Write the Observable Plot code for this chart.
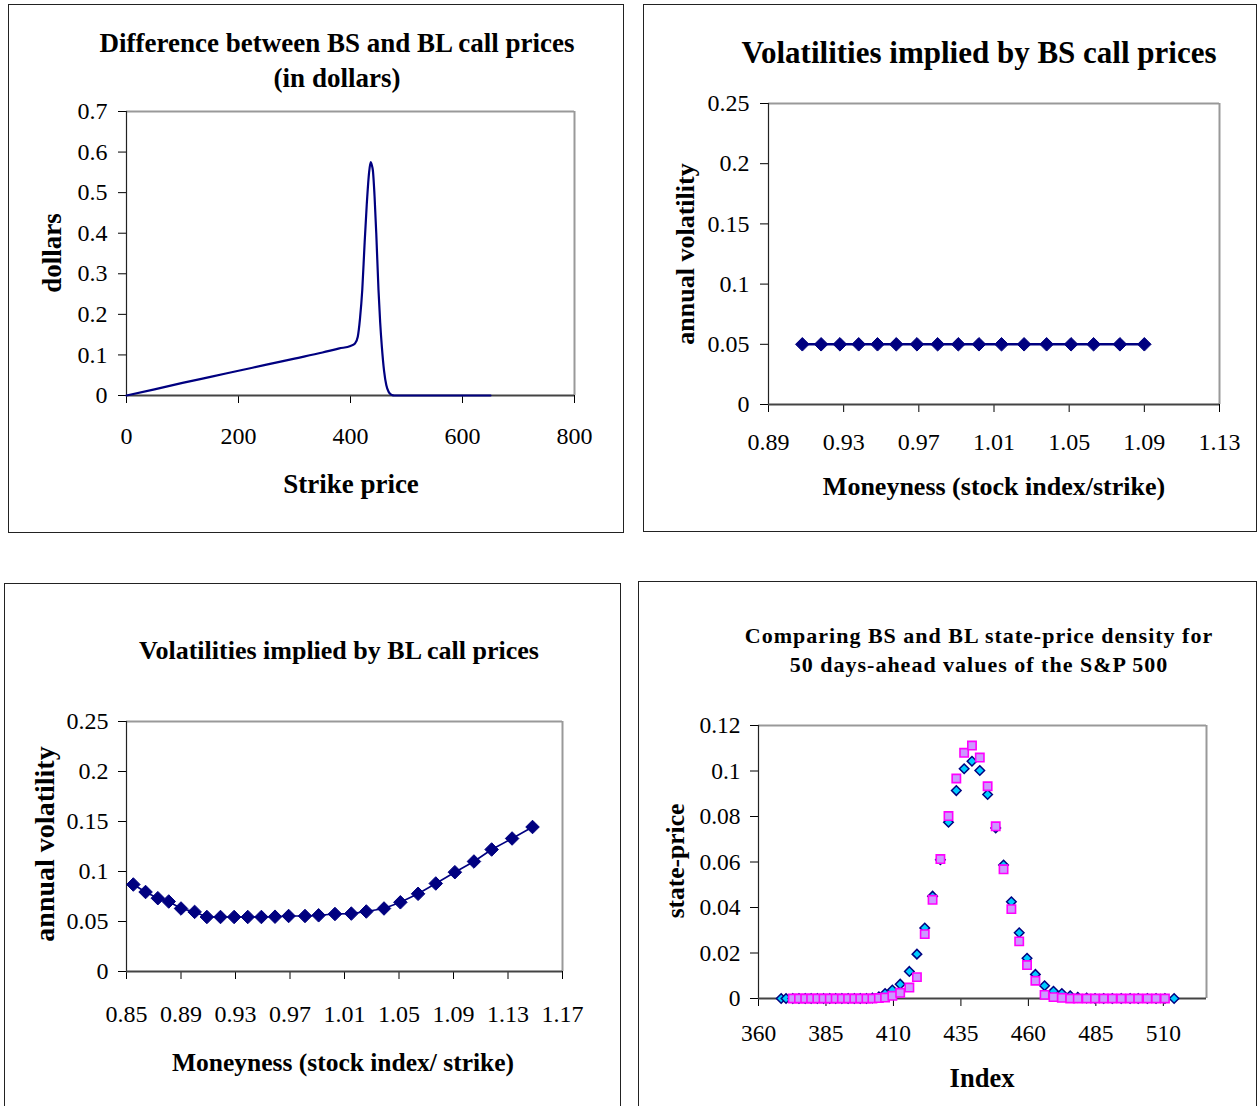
<!DOCTYPE html>
<html><head><meta charset="utf-8">
<script src="https://cdn.jsdelivr.net/npm/d3@7"></script>
<script src="https://cdn.jsdelivr.net/npm/@observablehq/plot@0.6"></script>
<style>
html,body{margin:0;padding:0;background:#fff;}
body{width:1258px;height:1106px;position:relative;overflow:hidden;font-family:"Liberation Serif","DejaVu Serif",serif;color:#000;}
.box{position:absolute;border:1.5px solid #222;box-sizing:border-box;}
.t{position:absolute;font-weight:bold;white-space:nowrap;color:#000;transform:translate(-50%,-50%);line-height:1;}
.rot{transform:translate(-50%,-50%) rotate(-90deg);}
.plot{position:absolute;}
</style></head><body>
<script>
// ---------- Panel 1: difference between BS and BL call prices ----------
const strikePrice = [0, 50, 100, 150, 200, 250, 300, 350, 380, 400, 408, 413, 417, 421, 425, 429, 433, 436, 438, 440, 443, 446, 450, 453, 456, 460, 464, 468, 472, 476, 480, 550, 650];
const priceDiff   = [0, 0.015, 0.031, 0.046, 0.061, 0.076, 0.091, 0.106, 0.116, 0.122, 0.128, 0.145, 0.19, 0.26, 0.37, 0.47, 0.547, 0.575, 0.568, 0.554, 0.49, 0.40, 0.26, 0.18, 0.12, 0.06, 0.025, 0.009, 0.003, 0.0005, 0, 0, 0];
const p1XTicks = [0, 200, 400, 600, 800];
const p1YTicks = [0, 0.1, 0.2, 0.3, 0.4, 0.5, 0.6, 0.7];

// ---------- Panel 2: volatilities implied by BS call prices ----------
const bsMoneyness = [0.908, 0.918, 0.928, 0.938, 0.948, 0.958, 0.969, 0.980, 0.991, 1.002, 1.014, 1.026, 1.038, 1.051, 1.063, 1.077, 1.090];
const bsVol       = [0.05, 0.05, 0.05, 0.05, 0.05, 0.05, 0.05, 0.05, 0.05, 0.05, 0.05, 0.05, 0.05, 0.05, 0.05, 0.05, 0.05];
const p2XTicks = [0.89, 0.93, 0.97, 1.01, 1.05, 1.09, 1.13];
const p2YTicks = [0, 0.05, 0.1, 0.15, 0.2, 0.25];

// ---------- Panel 3: volatilities implied by BL call prices ----------
const blMoneyness = [0.855, 0.864, 0.873, 0.881, 0.890, 0.900, 0.909, 0.919, 0.929, 0.939, 0.949, 0.959, 0.969, 0.981, 0.991, 1.003, 1.015, 1.026, 1.039, 1.051, 1.064, 1.077, 1.091, 1.105, 1.118, 1.133, 1.148];
const blVol       = [0.087, 0.0795, 0.0733, 0.070, 0.063, 0.0596, 0.0545, 0.0545, 0.0545, 0.0545, 0.0545, 0.0548, 0.0555, 0.0555, 0.0562, 0.0575, 0.0579, 0.060, 0.063, 0.0692, 0.0777, 0.088, 0.0993, 0.110, 0.122, 0.133, 0.1445];
const p3XTicks = [0.85, 0.89, 0.93, 0.97, 1.01, 1.05, 1.09, 1.13, 1.17];
const p3YTicks = [0, 0.05, 0.1, 0.15, 0.2, 0.25];

// ---------- Panel 4: state-price densities ----------
const stateIndex = [368.4, 370.2, 372.7, 375.0, 377.3, 379.5, 381.8, 384.1, 386.4, 388.6, 390.9, 393.2, 395.5, 397.7, 400.0, 402.2, 404.6, 406.9, 409.6, 412.5, 415.9, 418.7, 421.6, 424.5, 427.4, 430.4, 433.3, 436.2, 439.1, 442.0, 444.9, 447.9, 450.8, 453.7, 456.6, 459.5, 462.6, 466.0, 469.3, 472.4, 475.5, 478.3, 481.6, 484.7, 487.9, 491.1, 494.4, 497.7, 500.7, 504.1, 507.3, 510.6, 514.0];
const bsDensity = [0, 0, 0, 0, 0, 0, 0, 0, 0, 0, 0, 0, 0, 0, 0, 0.0002, 0.0007, 0.0022, 0.0037, 0.0063, 0.0119, 0.0195, 0.031, 0.045, 0.061, 0.0775, 0.0914, 0.101, 0.1043, 0.1002, 0.0897, 0.075, 0.0587, 0.0425, 0.0289, 0.0177, 0.0106, 0.0056, 0.0032, 0.0022, 0.0012, 0.0005, 0.0002, 0, 0, 0, 0, 0, 0, 0, 0, 0, 0];
const blDensity = [null, null, 0, 0, 0, 0, 0, 0, 0, 0, 0, 0, 0, 0, 0, 0, 0.0002, 0.0004, 0.0012, 0.0025, 0.0048, 0.0094, 0.0283, 0.0434, 0.0613, 0.0802, 0.0967, 0.108, 0.1112, 0.1059, 0.0933, 0.0757, 0.0568, 0.0393, 0.0251, 0.0147, 0.0078, 0.0016, 0.0006, 0.0003, 0, 0, 0, 0, 0, 0, 0, 0, 0, 0, 0, 0, null];
const p4XTicks = [360, 385, 410, 435, 460, 485, 510];
const p4YTicks = [0, 0.02, 0.04, 0.06, 0.08, 0.1, 0.12];

// ---------- helpers ----------
const NAVY = "#000080";
const diamondSym = {draw(ctx, size) { const r = Math.sqrt(size / 2); ctx.moveTo(0, -r); ctx.lineTo(r, 0); ctx.lineTo(0, r); ctx.lineTo(-r, 0); ctx.closePath(); }};
const plainFmt = d => String(d);

function addBox(l, t, w, h) {
  const d = document.createElement("div");
  d.className = "box";
  Object.assign(d.style, {left: l + "px", top: t + "px", width: w + "px", height: h + "px"});
  document.body.appendChild(d);
}
function addText(txt, x, y, size, rot, extra) {
  const d = document.createElement("div");
  d.className = "t" + (rot ? " rot" : "");
  d.textContent = txt;
  Object.assign(d.style, {left: x + "px", top: y + "px", fontSize: size + "px"}, extra || {});
  document.body.appendChild(d);
}
function panel({frame, m, xDomain, yDomain, xTicks, yTicks, xPad, yPad, font, marks}) {
  const [x0, y0, x1, y1] = frame;
  const [mt, mr, mb, ml] = m;
  const svg = Plot.plot({
    width: ml + (x1 - x0) + mr,
    height: mt + (y1 - y0) + mb,
    marginTop: mt, marginRight: mr, marginBottom: mb, marginLeft: ml,
    style: {fontFamily: '"Liberation Serif", "DejaVu Serif", serif', fontSize: font + "px", color: "#000", background: "transparent", overflow: "visible"},
    x: {domain: xDomain, ticks: xTicks, tickSize: 8, tickPadding: xPad, tickFormat: plainFmt, label: null},
    y: {domain: yDomain, ticks: yTicks, tickSize: 8, tickPadding: yPad, tickFormat: plainFmt, label: null},
    marks: [
      Plot.ruleY([yDomain[1]], {stroke: "#999", strokeWidth: 2}),
      Plot.ruleX([xDomain[1]], {stroke: "#999", strokeWidth: 2}),
      Plot.ruleX([xDomain[0]], {stroke: "#222", strokeWidth: 1.2}),
      Plot.ruleY([yDomain[0]], {stroke: "#444", strokeWidth: 2}),
      ...marks
    ]
  });
  svg.classList.add("plot");
  svg.style.left = (x0 - ml) + "px";
  svg.style.top = (y0 - mt) + "px";
  document.body.appendChild(svg);
}

// ---------- boxes ----------
addBox(8, 4, 616, 529);
addBox(643, 4, 614, 528);
addBox(4, 583, 617, 540);
addBox(638, 581, 619, 540);

// ---------- Panel 1 ----------
const p1Rows = strikePrice.map((s, i) => ({x: s, y: priceDiff[i]}));
panel({
  frame: [126, 111, 574, 395], m: [10, 30, 60, 110],
  xDomain: [0, 800], yDomain: [0, 0.7], xTicks: p1XTicks, yTicks: p1YTicks,
  xPad: 23, yPad: 11, font: 24,
  marks: [Plot.line(p1Rows, {x: "x", y: "y", curve: "monotone-x", stroke: NAVY, strokeWidth: 2.2})]
});
addText("Difference between BS and BL call prices", 337, 43, 27);
addText("(in dollars)", 337, 78, 27);
addText("dollars", 52, 253, 27, true);
addText("Strike price", 351, 484, 27);

// ---------- Panel 2 ----------
const p2Rows = bsMoneyness.map((m, i) => ({x: m, y: bsVol[i]}));
panel({
  frame: [768, 103, 1219, 404], m: [10, 30, 60, 100],
  xDomain: [0.89, 1.13], yDomain: [0, 0.25], xTicks: p2XTicks, yTicks: p2YTicks,
  xPad: 20, yPad: 11, font: 24,
  marks: [
    Plot.line(p2Rows, {x: "x", y: "y", stroke: NAVY, strokeWidth: 2.5}),
    Plot.dot(p2Rows, {x: "x", y: "y", symbol: diamondSym, r: 5.4, fill: NAVY, stroke: NAVY, strokeWidth: 1})
  ]
});
addText("Volatilities implied by BS call prices", 979, 52, 31);
addText("annual volatility", 686, 254, 26, true);
addText("Moneyness (stock index/strike)", 994, 487, 26);

// ---------- Panel 3 ----------
const p3Rows = blMoneyness.map((m, i) => ({x: m, y: blVol[i]}));
panel({
  frame: [126, 721, 562, 971], m: [10, 30, 60, 110],
  xDomain: [0.85, 1.17], yDomain: [0, 0.25], xTicks: p3XTicks, yTicks: p3YTicks,
  xPad: 25, yPad: 10, font: 24,
  marks: [
    Plot.line(p3Rows, {x: "x", y: "y", stroke: NAVY, strokeWidth: 1.6}),
    Plot.dot(p3Rows, {x: "x", y: "y", symbol: diamondSym, r: 5.4, fill: NAVY, stroke: NAVY, strokeWidth: 1})
  ]
});
addText("Volatilities implied by BL call prices", 339, 651, 26);
addText("annual volatility", 45, 844, 28, true);
addText("Moneyness (stock index/ strike)", 343, 1063, 25.5);

// ---------- Panel 4 ----------
const p4Bs = stateIndex.map((x, i) => ({x, y: bsDensity[i]})).filter(d => d.y != null);
const p4Bl = stateIndex.map((x, i) => ({x, y: blDensity[i]})).filter(d => d.y != null);
panel({
  frame: [758, 725, 1206, 998], m: [10, 30, 60, 100],
  xDomain: [360, 526], yDomain: [0, 0.12], xTicks: p4XTicks, yTicks: p4YTicks,
  xPad: 18, yPad: 10, font: 23.5,
  marks: [
    Plot.dot(p4Bs, {x: "x", y: "y", symbol: diamondSym, r: 3.8, fill: "#00CCFF", stroke: NAVY, strokeWidth: 1.5}),
    Plot.dot(p4Bl, {x: "x", y: "y", symbol: "square", r: 4.7, fill: "#CC99FF", stroke: "#FF00FF", strokeWidth: 1.6})
  ]
});
addText("Comparing BS and BL state-price density for", 979, 636, 22, false, {letterSpacing: "1px"});
addText("50 days-ahead values of the S&P 500", 979, 665, 22, false, {letterSpacing: "1px"});
addText("state-price", 676, 861, 25.5, true);
addText("Index", 982, 1078, 26.5);
</script>
</body></html>
